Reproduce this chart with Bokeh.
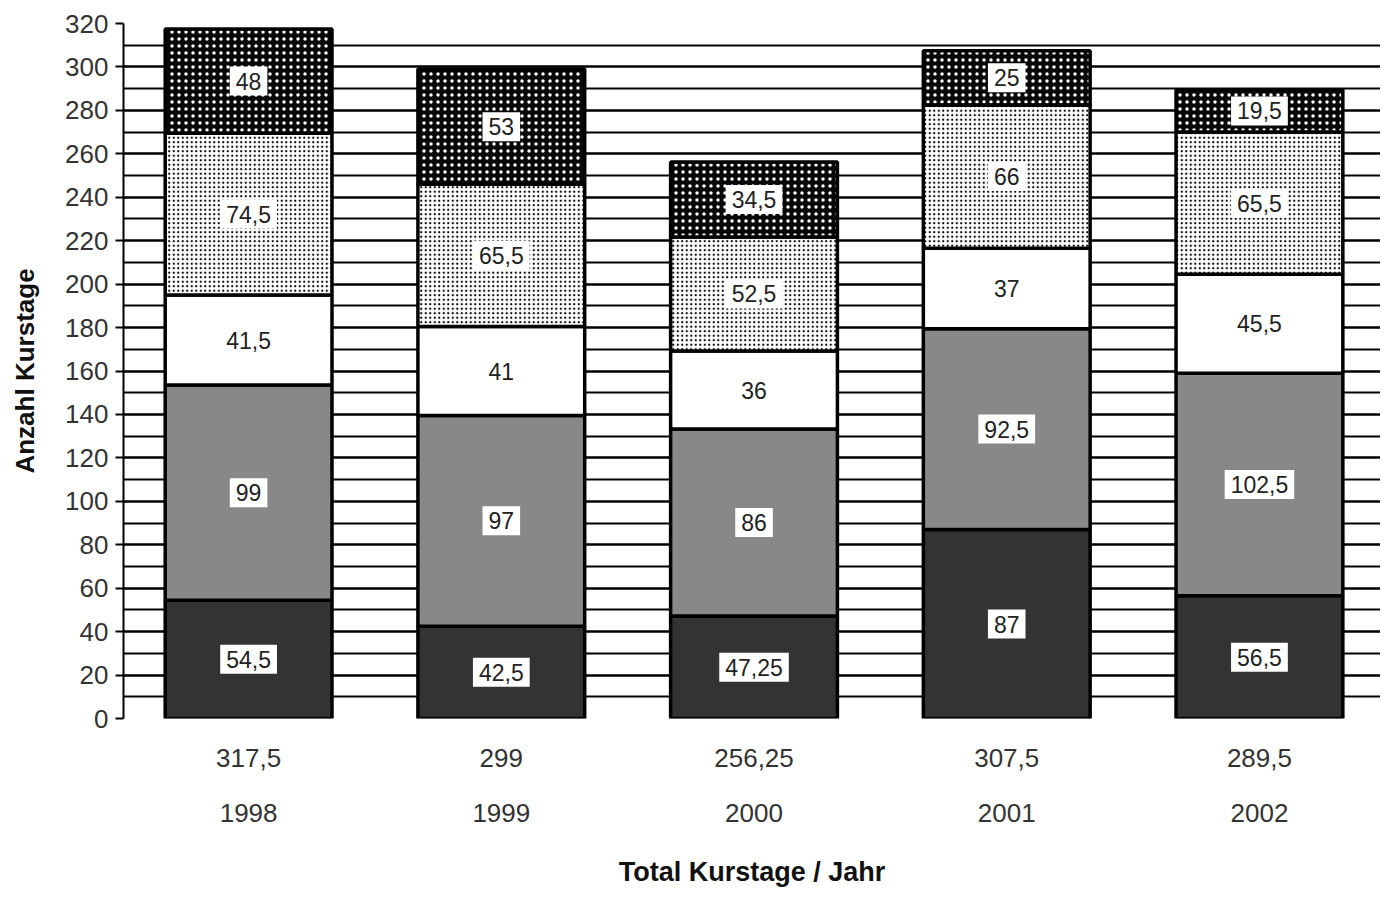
from bokeh.plotting import figure
from bokeh.models import (ColumnDataSource, FixedTicker, LinearAxis, Range1d)
from bokeh.core.properties import value
from bokeh.embed import file_html
from bokeh.resources import INLINE

years = ["1998", "1999", "2000", "2001", "2002"]
totals = ["317,5", "299", "256,25", "307,5", "289,5"]
seg1 = [54.5, 42.5, 47.25, 87, 56.5]
seg2 = [99, 97, 86, 92.5, 102.5]
seg3 = [41.5, 41, 36, 37, 45.5]
seg4 = [74.5, 65.5, 52.5, 66, 65.5]
seg5 = [48, 53, 34.5, 25, 19.5]
seg_labels = [
    ["54,5", "42,5", "47,25", "87", "56,5"],
    ["99", "97", "86", "92,5", "102,5"],
    ["41,5", "41", "36", "37", "45,5"],
    ["74,5", "65,5", "52,5", "66", "65,5"],
    ["48", "53", "34,5", "25", "19,5"],
]

FONT = "Liberation Sans"
xs = list(range(1, len(years) + 1))

p = figure(width=1380, height=890, output_backend="svg", toolbar_location=None,
           x_range=Range1d(0.505, 5.479), y_range=Range1d(0, 320),
           min_border_left=123, min_border_right=0, min_border_top=23, min_border_bottom=172)
p.outline_line_color = None
p.background_fill_color = "white"

styles = [
    dict(fill_color="#333333"),
    dict(fill_color="#888888"),
    dict(fill_color="white"),
    dict(fill_color="white", hatch_pattern="dot", hatch_color="black", hatch_scale=4.5, hatch_weight=1.3),
    dict(fill_color="#080808", hatch_pattern="dot", hatch_color="white", hatch_scale=7, hatch_weight=1.3),
]
series = [seg1, seg2, seg3, seg4, seg5]
bottom = [0.0] * len(xs)
for vals, st in zip(series, styles):
    top = [b + v for b, v in zip(bottom, vals)]
    src = ColumnDataSource(dict(x=xs, bottom=bottom, top=top))
    p.vbar(x="x", width=0.66, bottom="bottom", top="top", source=src,
           line_color="black", line_width=3.5, **st)
    bottom = top

# labels after bars
bottom = [0.0] * len(xs)
for vals, labs in zip(series, seg_labels):
    top = [b + v for b, v in zip(bottom, vals)]
    mid = [(b + t) / 2 for b, t in zip(bottom, top)]
    src = ColumnDataSource(dict(x=xs, mid=mid, lab=labs))
    p.text(x="x", y="mid", text="lab", source=src, text_align="center",
           text_baseline="middle", text_font=value(FONT), text_font_size="23px",
           text_color="#222222", background_fill_color="white", padding=6)
    bottom = top

# Y axis
yt = FixedTicker(ticks=list(range(0, 321, 20)), minor_ticks=list(range(0, 321, 10)))
p.yaxis.ticker = yt
p.yaxis.axis_label = "Anzahl Kurstage"
p.yaxis.axis_label_text_font = FONT
p.yaxis.axis_label_text_font_style = "bold"
p.yaxis.axis_label_text_font_size = "26px"
p.yaxis.axis_label_text_color = "#111111"
p.yaxis.axis_label_standoff = 22
p.yaxis.major_label_text_font = FONT
p.yaxis.major_label_text_font_size = "26px"
p.yaxis.major_label_text_color = "#333333"
p.yaxis.major_tick_out = 8
p.yaxis.major_tick_in = 0
p.yaxis.major_tick_line_width = 2
p.yaxis.minor_tick_line_color = None
p.yaxis.axis_line_width = 2
p.yaxis.major_label_standoff = 7

p.ygrid.ticker = yt
p.ygrid.grid_line_color = "black"
p.ygrid.grid_line_width = 1.8
p.ygrid.minor_grid_line_color = "black"
p.ygrid.minor_grid_line_width = 1.8
p.xgrid.grid_line_color = None

# X axes: totals row and years row
xt = FixedTicker(ticks=xs)
ax1 = p.xaxis[0]
ax1.ticker = xt
ax1.major_label_overrides = {x: t for x, t in zip(xs, totals)}
ax1.axis_line_color = None
ax1.major_tick_line_color = None
ax1.minor_tick_line_color = None
ax1.major_label_text_font = FONT
ax1.major_label_text_font_size = "26px"
ax1.major_label_text_color = "#333333"
ax1.major_label_standoff = 24

ax2 = LinearAxis(ticker=xt, major_label_overrides={x: y for x, y in zip(xs, years)})
ax2.axis_line_color = None
ax2.major_tick_line_color = None
ax2.minor_tick_line_color = None
ax2.major_label_text_font = FONT
ax2.major_label_text_font_size = "26px"
ax2.major_label_text_color = "#333333"
ax2.major_label_standoff = 28
ax2.axis_label = "Total Kurstage / Jahr"
ax2.axis_label_text_font = FONT
ax2.axis_label_text_font_style = "bold"
ax2.axis_label_text_font_size = "27px"
ax2.axis_label_text_color = "#111111"
ax2.axis_label_standoff = 32
p.add_layout(ax2, "below")

open("out.html", "w").write(file_html(p, INLINE))
